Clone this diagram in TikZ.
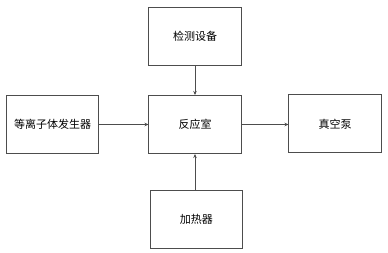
\documentclass[tikz,border=0pt]{standalone}
\usepackage{fontspec}
\setmainfont{Noto Sans CJK SC}
\usetikzlibrary{arrows.meta}
\definecolor{linegray}{HTML}{4D4D4D}
\begin{document}
\begin{tikzpicture}[x=1bp,y=-1bp,
    box/.style={draw=linegray,line width=1bp,minimum width=92bp,minimum height=58bp,inner sep=0pt,font=\fontsize{11bp}{13bp}\selectfont},
    flow/.style={draw=linegray,line width=1bp,-{Stealth[length=4bp,width=3.5bp]}}]
\useasboundingbox (0,0) rectangle (388,253);
\node[box] (detect) at (195,36) {检测设备};
\node[box] (chamber) at (195,124.5) {反应室};
\node[box] (plasma) at (52.7,124.5) {等离子体发生器};
\node[box] (pump) at (335,123.8) {真空泵};
\node[box] (heater) at (196.3,219) {加热器};
\draw[flow] (detect) -- (chamber);
\draw[flow] (plasma) -- (chamber);
\draw[flow] (chamber) -- (chamber -| pump.west);
\draw[flow] (heater.north -| chamber) -- (chamber);
\end{tikzpicture}
\end{document}
